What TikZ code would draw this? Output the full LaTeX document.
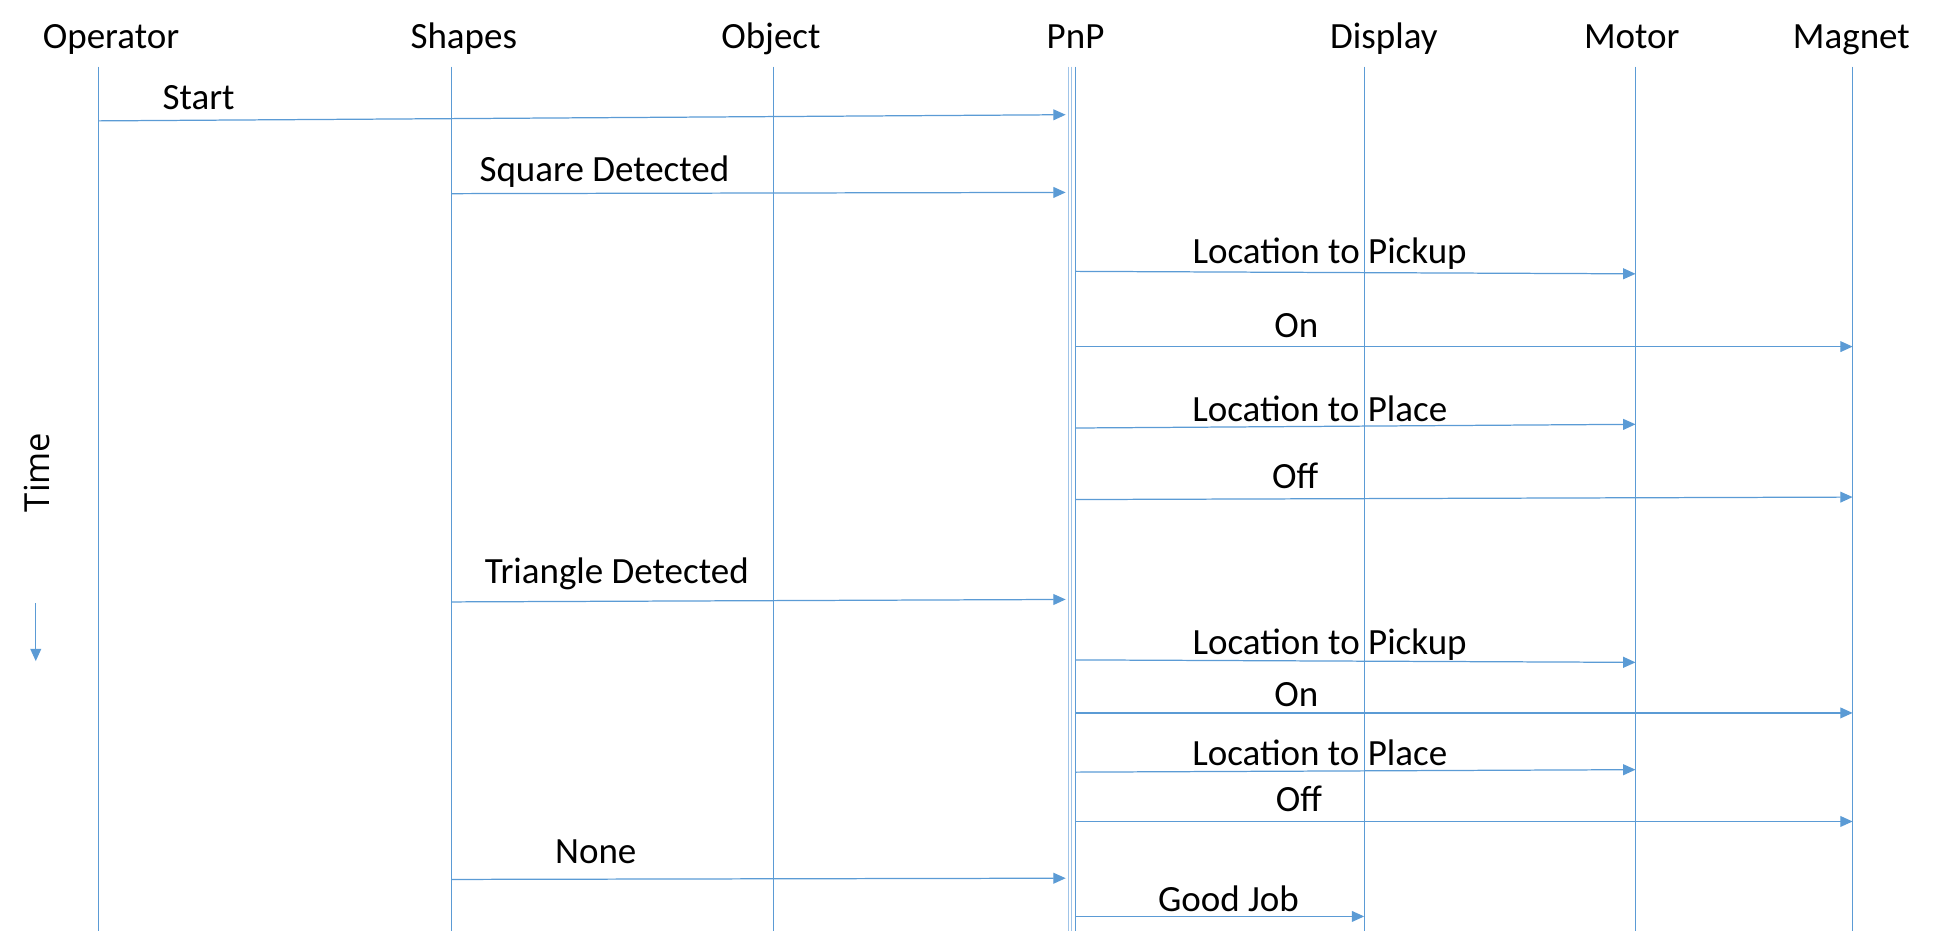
\documentclass[tikz,border=0pt]{standalone}
\usepackage{fontspec}
\setmainfont{Carlito}
\newfontfamily\timefont{Open Sans}
\usetikzlibrary{arrows.meta}
\definecolor{lineblue}{RGB}{91,155,213}
\definecolor{paleblue}{RGB}{160,196,232}

\begin{document}
\begin{tikzpicture}[x=0.5pt,y=-0.5pt]
	\tikzstyle{every node}+=[inner sep=0pt, font=\fontsize{15}{18}\selectfont]
	\tikzstyle{life}=[lineblue, line width=0.4pt]
	\tikzstyle{msg}=[lineblue, line width=0.5pt, -{Triangle[length=5pt,width=4.4pt]}]
	\tikzstyle{lbl}=[anchor=base]
	\useasboundingbox (0,0) rectangle (1568,767);
	% lifelines
	\node[lbl] (operator) at (90,39) {Operator};
	\coordinate (operatorTop) at (80,54); \coordinate (operatorBot) at (80,755);
	\draw[life] (operatorTop) -- (operatorBot);
	\node[lbl] (shapes) at (376,39) {Shapes};
	\coordinate (shapesTop) at (366,54); \coordinate (shapesBot) at (366,755);
	\draw[life] (shapesTop) -- (shapesBot);
	\node[lbl] (object) at (625,39) {Object};
	\coordinate (objectTop) at (627,54); \coordinate (objectBot) at (627,755);
	\draw[life] (objectTop) -- (objectBot);
	\node[lbl] (pnp) at (872,39) {PnP};
	\coordinate (pnpTop) at (869,54); \coordinate (pnpBot) at (869,755);
	\draw[paleblue, line width=0.4pt] ([xshift=-1.4pt]pnpTop) -- ([xshift=-1.4pt]pnpBot);
	\draw[paleblue, line width=0.4pt] (pnpTop) -- (pnpBot);
	\draw[life] ([xshift=1.3pt]pnpTop) -- ([xshift=1.3pt]pnpBot);
	\node[lbl] (display) at (1122,39) {Display};
	\coordinate (displayTop) at (1106,54); \coordinate (displayBot) at (1106,755);
	\draw[life] (displayTop) -- (displayBot);
	\node[lbl] (motor) at (1323,39) {Motor};
	\coordinate (motorTop) at (1326,54); \coordinate (motorBot) at (1326,755);
	\draw[life] (motorTop) -- (motorBot);
	\node[lbl] (magnet) at (1501,39) {Magnet};
	\coordinate (magnetTop) at (1502,54); \coordinate (magnetBot) at (1502,755);
	\draw[life] (magnetTop) -- (magnetBot);
	% time axis
	\node[rotate=90, font=\timefont\fontsize{14}{16}\selectfont] (time) at (30,383) {Time};
	\coordinate (timeA) at (29,489); \coordinate (timeB) at (29,536);
	\draw[msg] (timeA) -- (timeB);
	% messages
	\coordinate (m1a) at (80,98); \coordinate (m1b) at (864,93);
	\draw[msg] (m1a) -- (m1b);
	\node[lbl] (m1) at (161,89) {Start};
	\coordinate (m2a) at (366,157); \coordinate (m2b) at (864,156);
	\draw[msg] (m2a) -- (m2b);
	\node[lbl] (m2) at (490,147) {Square Detected};
	\coordinate (m3a) at (872,220); \coordinate (m3b) at (1326,222);
	\draw[msg] (m3a) -- (m3b);
	\node[lbl] (m3) at (1078,214) {Location to Pickup};
	\coordinate (m4a) at (872,281); \coordinate (m4b) at (1502,281);
	\draw[msg] (m4a) -- (m4b);
	\node[lbl] (m4) at (1051,274) {On};
	\coordinate (m5a) at (872,347); \coordinate (m5b) at (1326,344);
	\draw[msg] (m5a) -- (m5b);
	\node[lbl] (m5) at (1070,342) {Location to Place};
	\coordinate (m6a) at (872,405); \coordinate (m6b) at (1502,403);
	\draw[msg] (m6a) -- (m6b);
	\node[lbl] (m6) at (1050,396) {Off};
	\coordinate (m7a) at (366,488); \coordinate (m7b) at (864,486);
	\draw[msg] (m7a) -- (m7b);
	\node[lbl] (m7) at (500,473) {Triangle Detected};
	\coordinate (m8a) at (872,535); \coordinate (m8b) at (1326,537);
	\draw[msg] (m8a) -- (m8b);
	\node[lbl] (m8) at (1078,531) {Location to Pickup};
	\coordinate (m9a) at (872,578); \coordinate (m9b) at (1502,578);
	\draw[msg] (m9a) -- (m9b);
	\node[lbl] (m9) at (1051,573) {On};
	\coordinate (m10a) at (872,626); \coordinate (m10b) at (1326,624);
	\draw[msg] (m10a) -- (m10b);
	\node[lbl] (m10) at (1070,621) {Location to Place};
	\coordinate (m11a) at (872,666); \coordinate (m11b) at (1502,666);
	\draw[msg] (m11a) -- (m11b);
	\node[lbl] (m11) at (1053,658) {Off};
	\coordinate (m12a) at (366,713); \coordinate (m12b) at (864,712);
	\draw[msg] (m12a) -- (m12b);
	\node[lbl] (m12) at (483,700) {None};
	\coordinate (m13a) at (872,743); \coordinate (m13b) at (1106,743);
	\draw[msg] (m13a) -- (m13b);
	\node[lbl] (m13) at (996,739) {Good Job};
\end{tikzpicture}
\end{document}
